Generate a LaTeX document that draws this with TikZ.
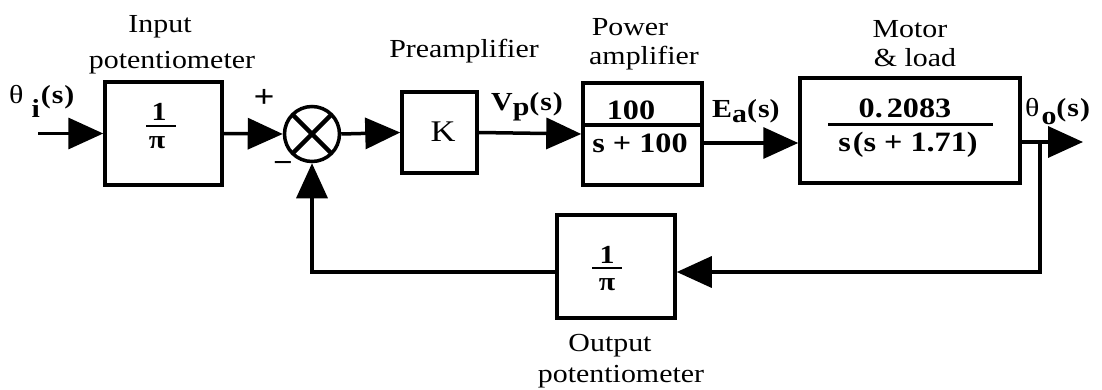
\documentclass[tikz,border=0pt]{standalone}
\usepackage{fontspec}
\setmainfont{Liberation Serif}
\newfontfamily\lblfont[FakeStretch=1.15]{Liberation Serif}
\usetikzlibrary{arrows.meta}
\begin{document}
\begin{tikzpicture}[x=1pt,y=-1pt,
  blk/.style={draw, line width=3.5pt, inner sep=0pt},
  lbl/.style={font=\lblfont\fontsize{26}{30}\selectfont, anchor=base, inner sep=0pt},
  num/.style={font=\lblfont\bfseries\fontsize{28}{32}\selectfont, anchor=base, inner sep=0pt},
  pifrac/.style={font=\lblfont\bfseries\fontsize{26}{30}\selectfont, anchor=base, inner sep=0pt},
  sig/.style={font=\lblfont\bfseries\fontsize{26}{30}\selectfont, anchor=base west, inner sep=0pt},
  wire/.style={line width=3.5pt},
  arr/.style={wire, -{Triangle[length=35pt,width=31pt]}},
  bar/.style={line width=2pt},
  sumj/.style={draw, circle, line width=3.5pt, inner sep=0pt, minimum size=55pt,
    path picture={
      \draw[line width=4.5pt] ([shift={(-19pt,-19pt)}]path picture bounding box.center) -- ([shift={(19pt,19pt)}]path picture bounding box.center);
      \draw[line width=4.5pt] ([shift={(-19pt,19pt)}]path picture bounding box.center) -- ([shift={(19pt,-19pt)}]path picture bounding box.center);
    }},
]
\useasboundingbox (0,0) rectangle (1102,390);

% blocks
\node[blk, minimum width=117pt, minimum height=103pt] (ip) at (163.5,133.5) {};
\node[sumj] (sum) at (312,134) {};
\node[blk, minimum width=75pt, minimum height=81pt] (K) at (439.5,132.5) {};
\node[blk, minimum width=119pt, minimum height=102pt] (pa) at (642.5,134) {};
\node[blk, minimum width=220pt, minimum height=105pt] (mo) at (910,130.5) {};
\node[blk, minimum width=118pt, minimum height=103pt] (fb) at (616,266.5) {};

% block contents
\node[pifrac] (ip1) at (159,121) {1};
\node[pifrac] (ippi) at (157,149) {π};
\draw[bar] (146,126) -- (176,126);
\node[lbl, font=\lblfont\fontsize{30}{32}\selectfont] (Kt) at (443,142) {K};
\node[num] (pan) at (631,120) {100};
\node[num] (pad) at (640,153) {s + 100};
\draw[line width=3.5pt] (pa.west |- 0,125) -- (pa.east |- 0,125);
\node[num] (mon) at (905,118) {0.\kern4pt2083};
\node[num] (mod) at (908,152) {s\kern2pt(s + 1.71)};
\draw[line width=3pt] (828,125) -- (993,125);
\node[pifrac] (fb1) at (607,263) {1};
\node[pifrac] (fbpi) at (607,290) {π};
\draw[bar] (592,268) -- (622,268);

% block titles
\node[lbl] (t1a) at (160,33) {Input};
\node[lbl] (t1b) at (172,69) {potentiometer};
\node[lbl] (t2) at (464,58) {Preamplifier};
\node[lbl] (t3a) at (630,36) {Power};
\node[lbl] (t3b) at (644,65) {amplifier};
\node[lbl] (t4a) at (910,38) {Motor};
\node[lbl] (t4b) at (915,67) {\& load};
\node[lbl] (t5a) at (610,351) {Output};
\node[lbl] (t5b) at (621,382) {potentiometer};

% signals
\node[sig] (thi) at (9,104) {{\mdseries θ}\hspace{8pt}\raisebox{-14pt}{i}\kern1pt(\kern1pt s\kern1pt)};
\node[sig] (vp) at (491,111) {V\raisebox{-5pt}{p}(\kern1pt s\kern1pt)};
\node[sig] (ea) at (712,118) {E\raisebox{-5pt}{a}(\kern1pt s)};
\node[sig] (tho) at (1025,117) {{\mdseries θ}\kern2pt\raisebox{-8pt}{o}(\kern1pt s\kern1pt)};
\node[sig, anchor=center, font=\lblfont\bfseries\fontsize{32}{34}\selectfont] (plus) at (264,98) {+};
\node[sig, anchor=center, font=\lblfont\bfseries\fontsize{30}{34}\selectfont] (minus) at (283,167) {−};

% connectors
\coordinate (in) at (38,133.5);
\draw[arr] (in) -- (ip.west);
\draw[arr] (ip.east) -- (sum.west);
\draw[arr] (sum.east) -- (K.west);
\draw[arr] (K.east) -- (pa.west);
\coordinate (eaout) at ([yshift=-9pt]pa.east);
\draw[arr] (eaout) -- (eaout -| mo.west);
\coordinate (moout) at ([yshift=-11.5pt]mo.east);
\coordinate (br) at (1040,142);
\coordinate (out) at (1083,142);
\draw[arr] (moout) -- (out);
\draw[arr] (br) |- ([yshift=-5.5pt]fb.east);
\draw[arr] ([yshift=-5.5pt]fb.west) -| (sum.south);
\end{tikzpicture}
\end{document}
